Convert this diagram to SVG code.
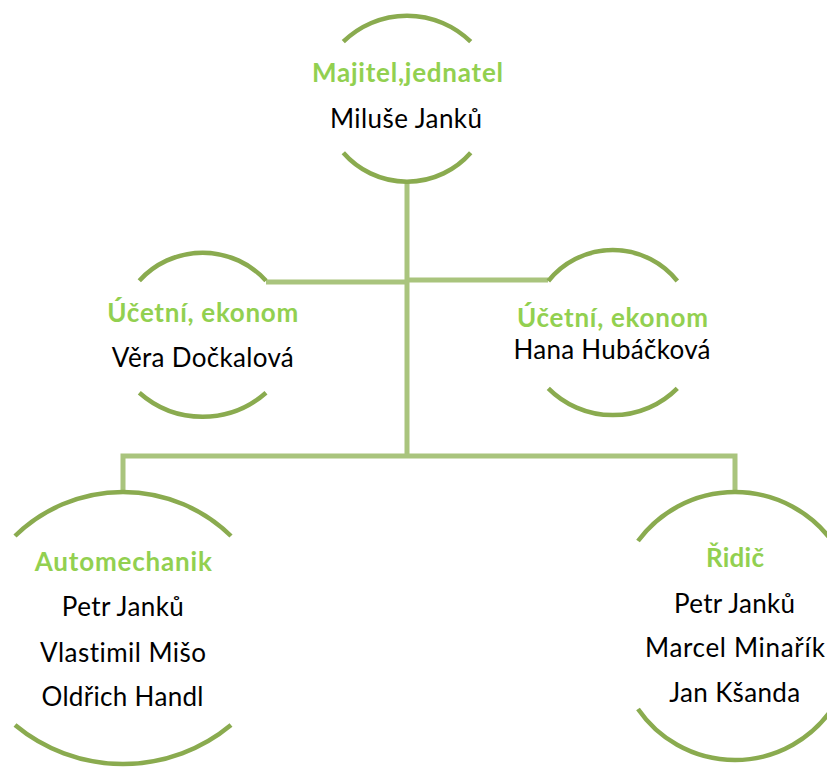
<svg xmlns="http://www.w3.org/2000/svg" width="827" height="767" viewBox="0 0 827 767">
<style>
.arc{fill:none;stroke:#8aab4f;stroke-width:4.5;stroke-linecap:butt}
.conn{fill:none;stroke:#a9c47d;stroke-width:5;stroke-linejoin:miter;stroke-linecap:butt}
.t{font-family:Lato,"Liberation Sans",sans-serif;font-size:26px;text-anchor:middle;fill:#92d050;font-weight:bold;font-variant-ligatures:none}
.n{font-family:Lato,"Liberation Sans",sans-serif;font-size:26px;text-anchor:middle;fill:#000000;font-variant-ligatures:none}
</style>
<rect width="827" height="767" fill="#ffffff"/>
<g id="connectors">
<path class="conn" d="M407,182 V456"/>
<path class="conn" d="M266,282 H407"/>
<path class="conn" d="M407,280 H548"/>
<path class="conn" d="M123,490 V456 H735 V493"/>
</g>
<g id="node-owner">
<path class="arc" d="M343.3,41.7 A91,91 0 0 1 470.7,41.7"/>
<path class="arc" d="M343.3,152.7 A84.5,84.5 0 0 0 470.7,152.7"/>
<text class="t" x="407.5" y="82" textLength="191">Majitel,jednatel</text>
<text class="n" x="406" y="128" textLength="152">Miluše Janků</text>
</g>
<g id="node-accountant-1">
<path class="arc" d="M139.3,280.7 A85.6,85.6 0 0 1 266,280.7"/>
<path class="arc" d="M139.3,392.7 A95.6,95.6 0 0 0 266,392.7"/>
<text class="t" x="202.8" y="322" textLength="191">Účetní, ekonom</text>
<text class="n" x="202.8" y="367" textLength="182">Věra Dočkalová</text>
</g>
<g id="node-accountant-2">
<path class="arc" d="M548.3,281 A82.6,82.6 0 0 1 677.3,281"/>
<path class="arc" d="M548.3,388.3 A91,91 0 0 0 677.3,388.3"/>
<text class="t" x="612.5" y="327" textLength="191">Účetní, ekonom</text>
<text class="n" x="612" y="359" textLength="197">Hana Hubáčková</text>
</g>
<g id="node-mechanic">
<path class="arc" d="M15,536 A154.5,154.5 0 0 1 231,536"/>
<path class="arc" d="M15,725 A169,169 0 0 0 231,725"/>
<text class="t" x="123.3" y="571" textLength="177">Automechanik</text>
<text class="n" x="122.8" y="616" textLength="122">Petr Janků</text>
<text class="n" x="123" y="662" textLength="166">Vlastimil Mišo</text>
<text class="n" x="122.5" y="706" textLength="162">Oldřich Handl</text>
</g>
<g id="node-driver">
<path class="arc" d="M638,541 A120.5,120.5 0 0 1 832,541"/>
<path class="arc" d="M638,709 A117.7,117.7 0 0 0 832,709"/>
<text class="t" x="735" y="567" textLength="58">Řidič</text>
<text class="n" x="734.5" y="613" textLength="121">Petr Janků</text>
<text class="n" x="735" y="657" textLength="180">Marcel Minařík</text>
<text class="n" x="734.7" y="702" textLength="131">Jan Kšanda</text>
</g>
</svg>
